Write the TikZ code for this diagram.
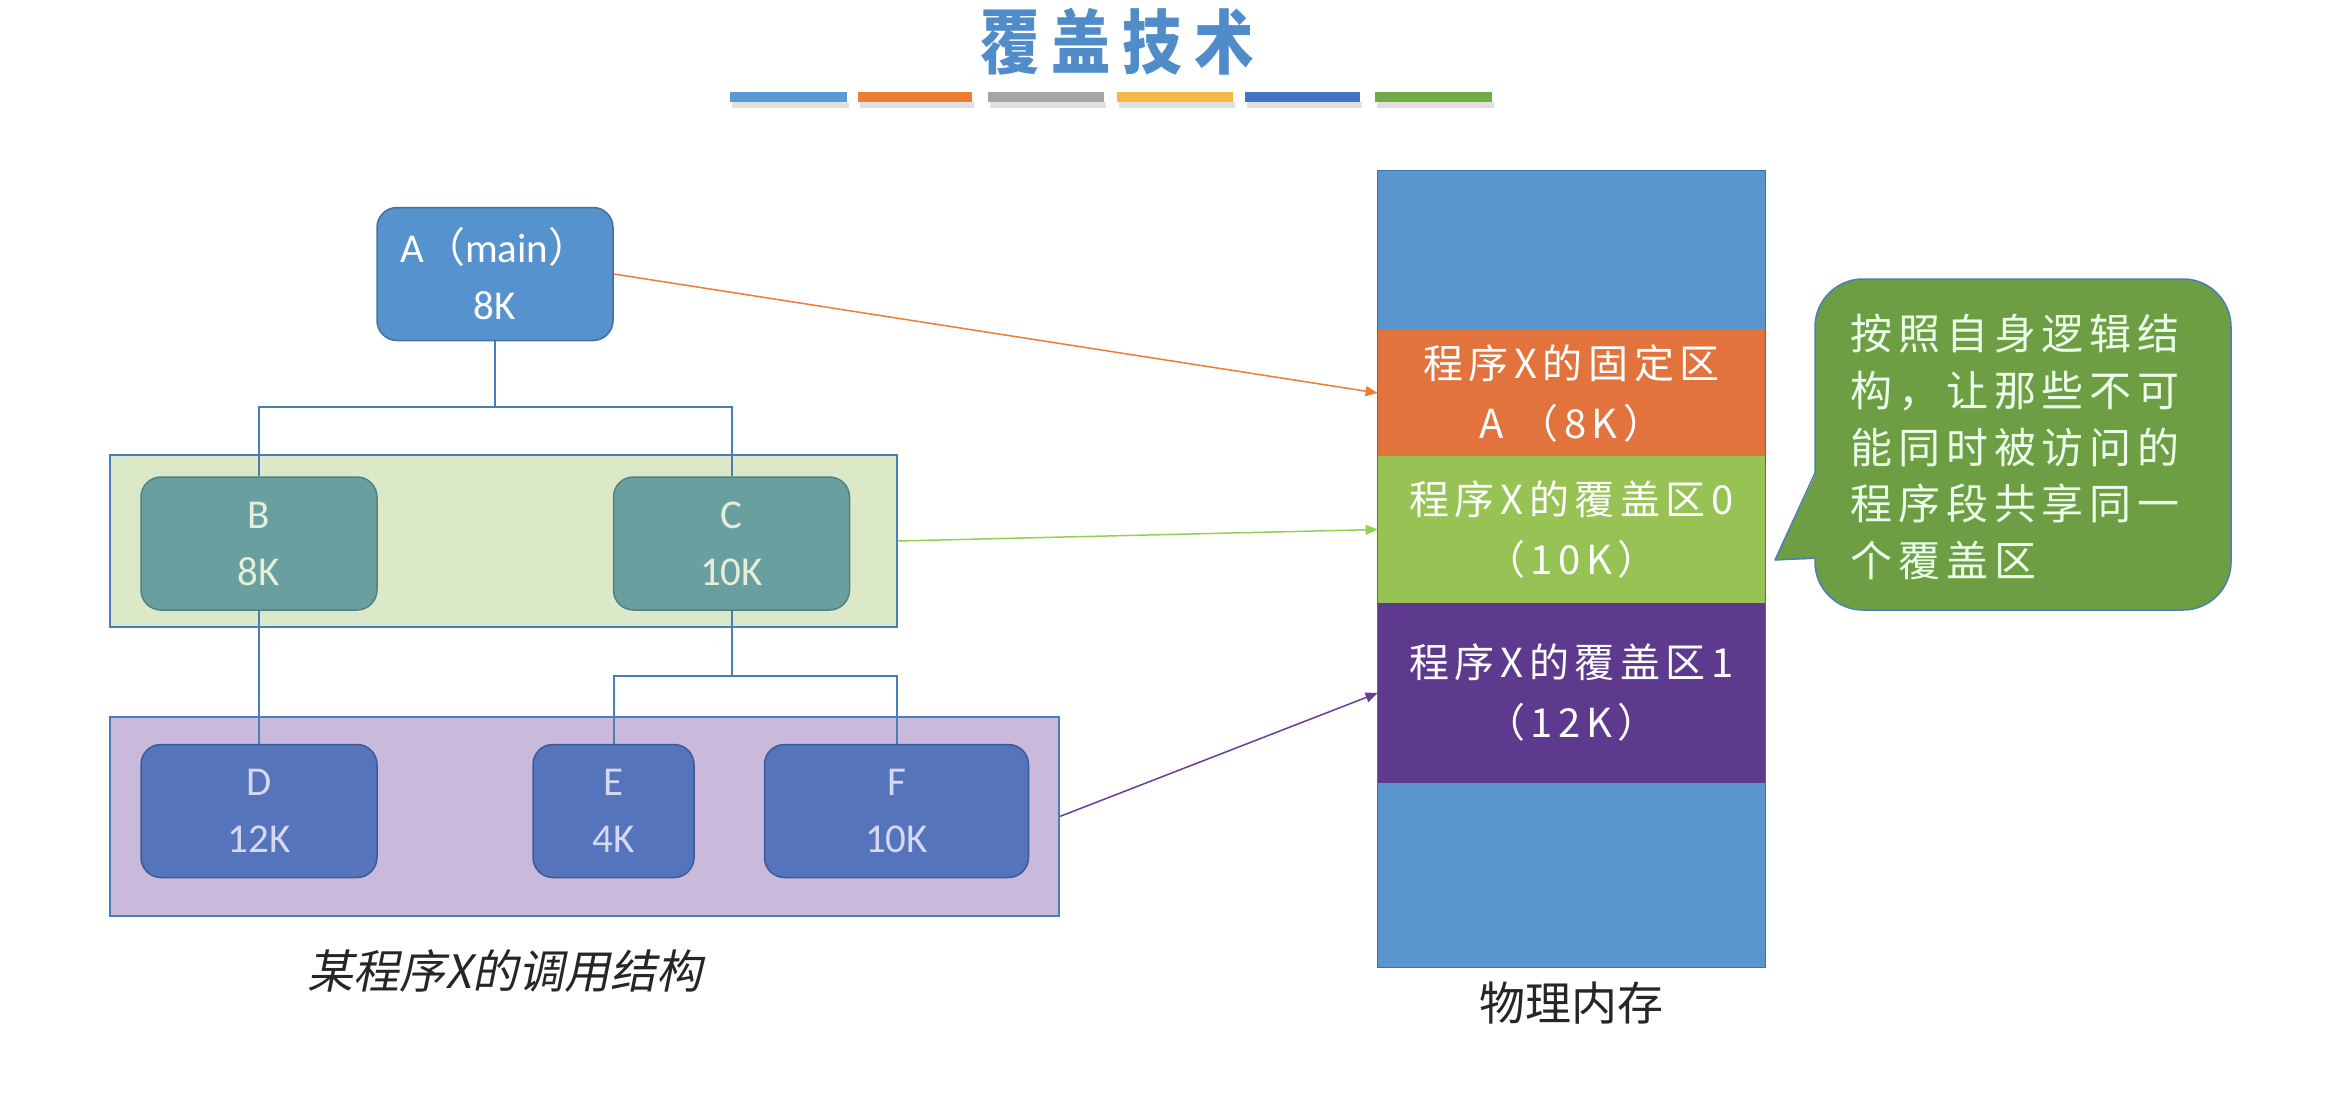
\documentclass[tikz,border=0pt]{standalone}
\usepackage{fontspec}
\setmainfont{Carlito}
\newfontfamily\cjk{Noto Sans CJK SC}
\newfontfamily\cjkw[LetterSpace=14]{Noto Sans CJK SC}
\newfontfamily\cjkit[FakeSlant=0.2]{Noto Sans CJK SC}
\newfontfamily\cjktitle[LetterSpace=20]{Noto Sans CJK SC}
\usetikzlibrary{arrows.meta}
\definecolor{titleblue}{HTML}{4F8CC9}
\definecolor{barA}{HTML}{5B9BD5}
\definecolor{barB}{HTML}{ED7D31}
\definecolor{barC}{HTML}{A5A5A5}
\definecolor{barD}{HTML}{F5B841}
\definecolor{barE}{HTML}{4472C4}
\definecolor{barF}{HTML}{70AD47}
\definecolor{Afill}{HTML}{5692CE}
\definecolor{Aline}{HTML}{41719C}
\definecolor{Bfill}{HTML}{6A9F9F}
\definecolor{Bline}{HTML}{4F8284}
\definecolor{Btext}{HTML}{E4EEDA}
\definecolor{Dfill}{HTML}{5574BC}
\definecolor{Dline}{HTML}{3D5A9A}
\definecolor{Dtext}{HTML}{D6D8F2}
\definecolor{bandline}{HTML}{4A7EBB}
\definecolor{gband}{HTML}{DCE9C8}
\definecolor{pband}{HTML}{C9BADC}
\definecolor{treeline}{HTML}{4A7EBB}
\definecolor{memblue}{HTML}{5A96CC}
\definecolor{memorange}{HTML}{E2733C}
\definecolor{memgreen}{HTML}{96C354}
\definecolor{mempurple}{HTML}{5E3A8F}
\definecolor{memline}{HTML}{41719C}
\definecolor{arrOrange}{HTML}{ED7D31}
\definecolor{arrGreen}{HTML}{92D050}
\definecolor{arrPurple}{HTML}{6A3C9A}
\definecolor{bubble}{HTML}{6E9E44}
\definecolor{captext}{HTML}{262626}
\begin{document}
\begin{tikzpicture}[x=0.5pt,y=-0.5pt,
  prog/.style={rounded corners=10pt, line width=0.75pt, minimum height=66.5pt,
    font=\fontsize{20.5}{28.5}\selectfont, align=center, inner sep=0pt},
  abox/.style={prog, fill=Afill, draw=Aline, text=white},
  bbox/.style={prog, fill=Bfill, draw=Bline, text=Btext},
  dbox/.style={prog, fill=Dfill, draw=Dline, text=Dtext},
  band/.style={line width=0.75pt, draw=bandline, inner sep=0pt},
  seg/.style={minimum width=193.5pt, inner sep=0pt, align=center, text=white,
    font=\cjkw\fontsize{20}{30}\selectfont},
  tree/.style={draw=treeline, line width=1pt},
  link/.style={-{Triangle[length=6pt,width=5pt]}, line width=0.75pt}
]
\useasboundingbox (0,0) rectangle (2329,1102);

% title and coloured bars
\node[font=\cjktitle\bfseries\fontsize{35}{35}\selectfont, text=titleblue, xscale=0.85] (title) at (1117,42) {覆盖技术};
\foreach \xa/\xb/\c in {730/847/barA, 858/972/barB, 988/1104/barC, 1117/1233/barD, 1245/1360/barE, 1375/1492/barF}{
  \fill[black!12] (\xa+2,102) rectangle (\xb+2,108);
  \fill[\c] (\xa,92) rectangle (\xb,102);
}

% bands
\node[band, fill=gband, minimum width=393.5pt, minimum height=86pt] (gb) at (503.5,541) {};
\node[band, fill=pband, minimum width=474.5pt, minimum height=99.5pt] (pb) at (584.5,816.5) {};

% program boxes
\node[abox, minimum width=118pt] (A) at (495,274) {A{\cjk （}main{\cjk ）}\\8K};
\node[bbox, minimum width=118pt] (B) at (259,543.5) {B\\8K};
\node[bbox, minimum width=118pt] (C) at (731.5,543.5) {C\\10K};
\node[dbox, minimum width=118pt] (D) at (259,811) {D\\12K};
\node[dbox, minimum width=80.5pt] (E) at (613.5,811) {E\\4K};
\node[dbox, minimum width=132pt] (F) at (896.5,811) {F\\10K};

% call tree
\coordinate (j1) at (495,407);
\coordinate (j2) at (731.5,676);
\draw[tree] (A.south) -- (j1);
\draw[tree] (B.north) |- (j1) -| (C.north);
\draw[tree] (B.south) -- (D.north);
\draw[tree] (C.south) -- (j2);
\draw[tree] (E.north) |- (j2) -| (F.north);

\node[font=\cjkit\fontsize{23}{23}\selectfont, text=captext] (cap) at (505,971) {某程序X的调用结构};

% physical memory
\node[seg, fill=memblue, minimum height=79.5pt] (mT) at (1571.5,250.5) {};
\node[seg, fill=memorange, minimum height=63pt] (mO) at (1571.5,393) {程序X的固定区\\A （8K）};
\node[seg, fill=memgreen, minimum height=73.5pt] (mG) at (1571.5,529.5) {程序X的覆盖区0\\（10K）};
\node[seg, fill=mempurple, minimum height=90pt] (mP) at (1571.5,693) {程序X的覆盖区1\\（12K）};
\node[seg, fill=memblue, minimum height=92pt] (mB) at (1571.5,875) {};
\draw[memline, line width=0.75pt] (mT.north west) rectangle (mB.south east);
\node[font=\cjk\fontsize{23}{23}\selectfont, text=captext] (memcap) at (1571,1003) {物理内存};

% arrows
\draw[link, draw=arrOrange] (A.east) -- (mO.west);
\draw[link, draw=arrGreen] (gb.east) -- (mG.west);
\draw[link, draw=arrPurple] (pb.east) -- (mP.west);

% callout bubble
\draw[fill=bubble, draw=bandline, line width=0.75pt, rounded corners=24pt]
  (1815,279) rectangle (2231,610);
\fill[bubble] (1775,560) -- (1817,471) -- (1817,559) -- cycle;
\draw[bandline, line width=0.75pt, line join=round] (1815,473) -- (1775,560) -- (1815,558);
\node[anchor=west, align=left, inner sep=0pt, text=white!92!green,
  font=\cjkw\fontsize{21}{28.3}\selectfont] (note) at (1850,447)
  {按照自身逻辑结\\构，让那些不可\\能同时被访问的\\程序段共享同一\\个覆盖区};
\end{tikzpicture}
\end{document}
